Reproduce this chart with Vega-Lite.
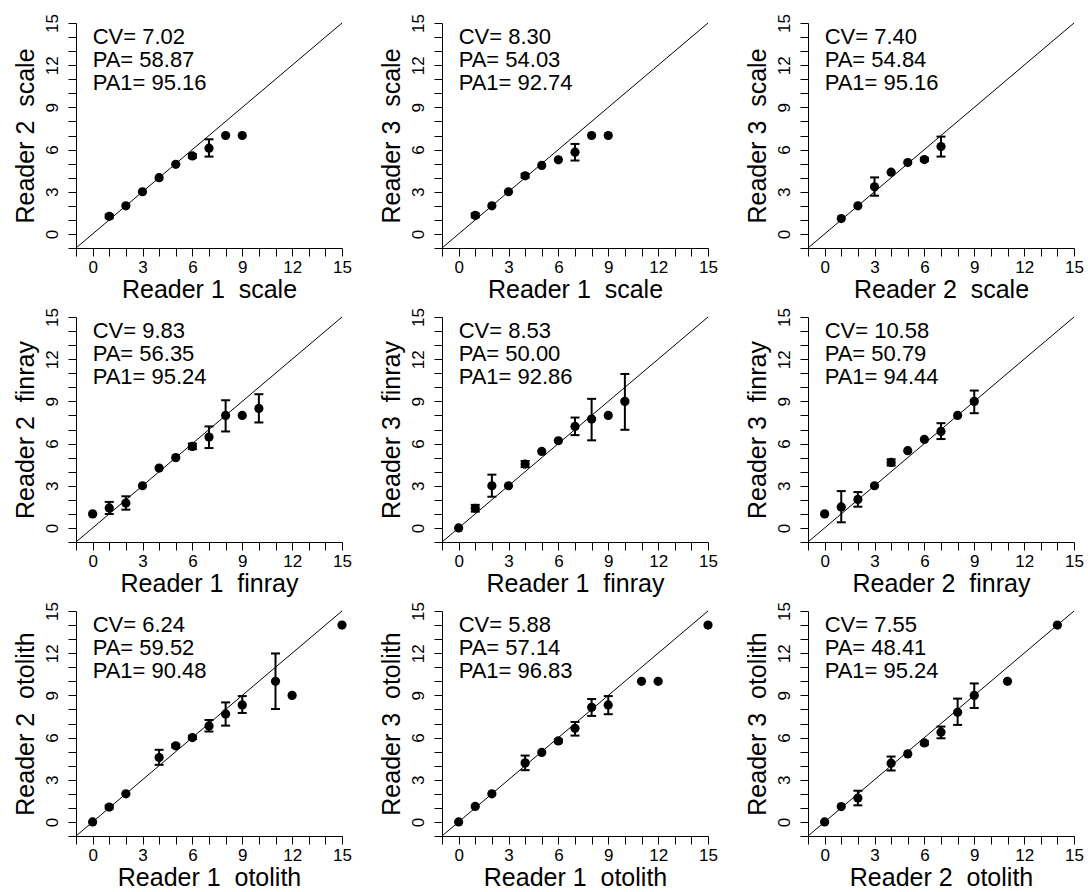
{
  "$schema": "https://vega.github.io/schema/vega-lite/v6.json",
  "padding": {"left": 13, "top": 13, "right": 0, "bottom": 0},
  "background": "white",
  "datasets": {
    "pts": [
      {"p":1,"x":1,"y":1.25,"lo":1.12,"hi":1.38},{"p":1,"x":2,"y":2.0},{"p":1,"x":3,"y":3.0},{"p":1,"x":4,"y":4.0},{"p":1,"x":5,"y":4.95},{"p":1,"x":6,"y":5.55,"lo":5.42,"hi":5.68},{"p":1,"x":7,"y":6.1,"lo":5.5,"hi":6.73},{"p":1,"x":8,"y":7.0},{"p":1,"x":9,"y":7.0},
      {"p":2,"x":1,"y":1.32,"lo":1.18,"hi":1.46},{"p":2,"x":2,"y":2.0},{"p":2,"x":3,"y":3.0},{"p":2,"x":4,"y":4.13,"lo":4.0,"hi":4.27},{"p":2,"x":5,"y":4.87},{"p":2,"x":6,"y":5.27},{"p":2,"x":7,"y":5.81,"lo":5.22,"hi":6.4},{"p":2,"x":8,"y":7.0},{"p":2,"x":9,"y":7.0},
      {"p":3,"x":1,"y":1.09},{"p":3,"x":2,"y":2.0},{"p":3,"x":3,"y":3.35,"lo":2.72,"hi":4.02},{"p":3,"x":4,"y":4.39},{"p":3,"x":5,"y":5.08},{"p":3,"x":6,"y":5.29,"lo":5.18,"hi":5.4},{"p":3,"x":7,"y":6.21,"lo":5.5,"hi":6.92},
      {"p":4,"x":0,"y":1.0},{"p":4,"x":1,"y":1.42,"lo":0.99,"hi":1.85},{"p":4,"x":2,"y":1.77,"lo":1.3,"hi":2.25},{"p":4,"x":3,"y":3.0},{"p":4,"x":4,"y":4.26},{"p":4,"x":5,"y":5.0},{"p":4,"x":6,"y":5.8,"lo":5.6,"hi":6.0},{"p":4,"x":7,"y":6.46,"lo":5.68,"hi":7.22},{"p":4,"x":8,"y":8.0,"lo":6.86,"hi":9.08},{"p":4,"x":9,"y":8.0},{"p":4,"x":10,"y":8.5,"lo":7.5,"hi":9.51},
      {"p":5,"x":0,"y":0.0},{"p":5,"x":1,"y":1.4,"lo":1.16,"hi":1.64},{"p":5,"x":2,"y":3.0,"lo":2.22,"hi":3.79},{"p":5,"x":3,"y":3.0},{"p":5,"x":4,"y":4.54,"lo":4.32,"hi":4.76},{"p":5,"x":5,"y":5.44},{"p":5,"x":6,"y":6.2},{"p":5,"x":7,"y":7.22,"lo":6.6,"hi":7.85},{"p":5,"x":8,"y":7.74,"lo":6.23,"hi":9.18},{"p":5,"x":9,"y":8.0},{"p":5,"x":10,"y":9.0,"lo":6.98,"hi":10.95},
      {"p":6,"x":0,"y":1.0},{"p":6,"x":1,"y":1.49,"lo":0.4,"hi":2.62},{"p":6,"x":2,"y":2.03,"lo":1.51,"hi":2.55},{"p":6,"x":3,"y":3.0},{"p":6,"x":4,"y":4.66,"lo":4.44,"hi":4.88},{"p":6,"x":5,"y":5.49},{"p":6,"x":6,"y":6.29},{"p":6,"x":7,"y":6.86,"lo":6.32,"hi":7.45},{"p":6,"x":8,"y":8.0},{"p":6,"x":9,"y":9.0,"lo":8.16,"hi":9.77},
      {"p":7,"x":0,"y":0.0},{"p":7,"x":1,"y":1.06,"lo":0.95,"hi":1.17},{"p":7,"x":2,"y":2.0},{"p":7,"x":4,"y":4.58,"lo":4.06,"hi":5.13},{"p":7,"x":5,"y":5.41,"lo":5.3,"hi":5.52},{"p":7,"x":6,"y":6.0,"lo":5.9,"hi":6.1},{"p":7,"x":7,"y":6.83,"lo":6.43,"hi":7.25},{"p":7,"x":8,"y":7.68,"lo":6.85,"hi":8.5},{"p":7,"x":9,"y":8.32,"lo":7.75,"hi":8.95},{"p":7,"x":11,"y":10.0,"lo":8.03,"hi":11.98},{"p":7,"x":12,"y":9.0},{"p":7,"x":15,"y":14.0},
      {"p":8,"x":0,"y":0.0},{"p":8,"x":1,"y":1.1},{"p":8,"x":2,"y":2.0},{"p":8,"x":4,"y":4.2,"lo":3.68,"hi":4.72},{"p":8,"x":5,"y":4.94},{"p":8,"x":6,"y":5.76,"lo":5.65,"hi":5.87},{"p":8,"x":7,"y":6.66,"lo":6.14,"hi":7.11},{"p":8,"x":8,"y":8.15,"lo":7.54,"hi":8.74},{"p":8,"x":9,"y":8.32,"lo":7.66,"hi":8.95},{"p":8,"x":11,"y":10.0},{"p":8,"x":12,"y":10.0},{"p":8,"x":15,"y":14.0},
      {"p":9,"x":0,"y":0.0},{"p":9,"x":1,"y":1.09},{"p":9,"x":2,"y":1.7,"lo":1.18,"hi":2.22},{"p":9,"x":4,"y":4.18,"lo":3.66,"hi":4.65},{"p":9,"x":5,"y":4.84},{"p":9,"x":6,"y":5.62,"lo":5.5,"hi":5.74},{"p":9,"x":7,"y":6.38,"lo":5.95,"hi":6.78},{"p":9,"x":8,"y":7.8,"lo":6.9,"hi":8.77},{"p":9,"x":9,"y":9.0,"lo":8.1,"hi":9.85},{"p":9,"x":11,"y":10.0},{"p":9,"x":14,"y":14.0}
    ],
    "ann": [
      {"p":1,"t":"CV= 7.02\nPA= 58.87\nPA1= 95.16"},
      {"p":2,"t":"CV= 8.30\nPA= 54.03\nPA1= 92.74"},
      {"p":3,"t":"CV= 7.40\nPA= 54.84\nPA1= 95.16"},
      {"p":4,"t":"CV= 9.83\nPA= 56.35\nPA1= 95.24"},
      {"p":5,"t":"CV= 8.53\nPA= 50.00\nPA1= 92.86"},
      {"p":6,"t":"CV= 10.58\nPA= 50.79\nPA1= 94.44"},
      {"p":7,"t":"CV= 6.24\nPA= 59.52\nPA1= 90.48"},
      {"p":8,"t":"CV= 5.88\nPA= 57.14\nPA1= 96.83"},
      {"p":9,"t":"CV= 7.55\nPA= 48.41\nPA1= 95.24"}
    ]
  },
  "columns": 3,
  "spacing": {"row": 69, "column": 100},
  "bounds": "flush",
  "concat": [
    {"width":266,"height":225,"layer":[
      {"data":{"values":[{}]},"mark":{"type":"rule","color":"black","strokeWidth":1},"encoding":{"x":{"datum":-1,"type":"quantitative","scale":{"domain":[-1,15],"nice":false,"zero":false},"axis":{"title":"Reader 1\u00a0 scale"}},"x2":{"datum":15},"y":{"datum":-1,"type":"quantitative","scale":{"domain":[-1,15],"nice":false,"zero":false},"axis":{"title":"Reader 2\u00a0 scale"}},"y2":{"datum":15}}},
      {"data":{"name":"ann"},"transform":[{"filter":"datum.p==1"}],"mark":{"type":"text","align":"left","baseline":"top","fontSize":22,"lineBreak":"\n","lineHeight":23,"dy":4,"color":"black"},"encoding":{"x":{"datum":0,"type":"quantitative"},"y":{"datum":15,"type":"quantitative"},"text":{"field":"t"}}},
      {"data":{"name":"pts"},"transform":[{"filter":"datum.p==1"}],"encoding":{"x":{"field":"x","type":"quantitative"}},"layer":[
        {"transform":[{"filter":"isValid(datum.lo)"}],"layer":[
          {"mark":{"type":"rule","color":"black","strokeWidth":2},"encoding":{"y":{"field":"lo","type":"quantitative"},"y2":{"field":"hi"}}},
          {"mark":{"type":"tick","orient":"horizontal","color":"black","size":9,"thickness":2,"opacity":1},"encoding":{"y":{"field":"lo","type":"quantitative"}}},
          {"mark":{"type":"tick","orient":"horizontal","color":"black","size":9,"thickness":2,"opacity":1},"encoding":{"y":{"field":"hi","type":"quantitative"}}}
        ]},
        {"mark":{"type":"circle","size":85,"color":"black","opacity":1},"encoding":{"y":{"field":"y","type":"quantitative"}}}
      ]}
    ]},
    {"width":266,"height":225,"layer":[
      {"data":{"values":[{}]},"mark":{"type":"rule","color":"black","strokeWidth":1},"encoding":{"x":{"datum":-1,"type":"quantitative","scale":{"domain":[-1,15],"nice":false,"zero":false},"axis":{"title":"Reader 1\u00a0 scale"}},"x2":{"datum":15},"y":{"datum":-1,"type":"quantitative","scale":{"domain":[-1,15],"nice":false,"zero":false},"axis":{"title":"Reader 3\u00a0 scale"}},"y2":{"datum":15}}},
      {"data":{"name":"ann"},"transform":[{"filter":"datum.p==2"}],"mark":{"type":"text","align":"left","baseline":"top","fontSize":22,"lineBreak":"\n","lineHeight":23,"dy":4,"color":"black"},"encoding":{"x":{"datum":0,"type":"quantitative"},"y":{"datum":15,"type":"quantitative"},"text":{"field":"t"}}},
      {"data":{"name":"pts"},"transform":[{"filter":"datum.p==2"}],"encoding":{"x":{"field":"x","type":"quantitative"}},"layer":[
        {"transform":[{"filter":"isValid(datum.lo)"}],"layer":[
          {"mark":{"type":"rule","color":"black","strokeWidth":2},"encoding":{"y":{"field":"lo","type":"quantitative"},"y2":{"field":"hi"}}},
          {"mark":{"type":"tick","orient":"horizontal","color":"black","size":9,"thickness":2,"opacity":1},"encoding":{"y":{"field":"lo","type":"quantitative"}}},
          {"mark":{"type":"tick","orient":"horizontal","color":"black","size":9,"thickness":2,"opacity":1},"encoding":{"y":{"field":"hi","type":"quantitative"}}}
        ]},
        {"mark":{"type":"circle","size":85,"color":"black","opacity":1},"encoding":{"y":{"field":"y","type":"quantitative"}}}
      ]}
    ]},
    {"width":266,"height":225,"layer":[
      {"data":{"values":[{}]},"mark":{"type":"rule","color":"black","strokeWidth":1},"encoding":{"x":{"datum":-1,"type":"quantitative","scale":{"domain":[-1,15],"nice":false,"zero":false},"axis":{"title":"Reader 2\u00a0 scale"}},"x2":{"datum":15},"y":{"datum":-1,"type":"quantitative","scale":{"domain":[-1,15],"nice":false,"zero":false},"axis":{"title":"Reader 3\u00a0 scale"}},"y2":{"datum":15}}},
      {"data":{"name":"ann"},"transform":[{"filter":"datum.p==3"}],"mark":{"type":"text","align":"left","baseline":"top","fontSize":22,"lineBreak":"\n","lineHeight":23,"dy":4,"color":"black"},"encoding":{"x":{"datum":0,"type":"quantitative"},"y":{"datum":15,"type":"quantitative"},"text":{"field":"t"}}},
      {"data":{"name":"pts"},"transform":[{"filter":"datum.p==3"}],"encoding":{"x":{"field":"x","type":"quantitative"}},"layer":[
        {"transform":[{"filter":"isValid(datum.lo)"}],"layer":[
          {"mark":{"type":"rule","color":"black","strokeWidth":2},"encoding":{"y":{"field":"lo","type":"quantitative"},"y2":{"field":"hi"}}},
          {"mark":{"type":"tick","orient":"horizontal","color":"black","size":9,"thickness":2,"opacity":1},"encoding":{"y":{"field":"lo","type":"quantitative"}}},
          {"mark":{"type":"tick","orient":"horizontal","color":"black","size":9,"thickness":2,"opacity":1},"encoding":{"y":{"field":"hi","type":"quantitative"}}}
        ]},
        {"mark":{"type":"circle","size":85,"color":"black","opacity":1},"encoding":{"y":{"field":"y","type":"quantitative"}}}
      ]}
    ]},
    {"width":266,"height":225,"layer":[
      {"data":{"values":[{}]},"mark":{"type":"rule","color":"black","strokeWidth":1},"encoding":{"x":{"datum":-1,"type":"quantitative","scale":{"domain":[-1,15],"nice":false,"zero":false},"axis":{"title":"Reader 1\u00a0 finray"}},"x2":{"datum":15},"y":{"datum":-1,"type":"quantitative","scale":{"domain":[-1,15],"nice":false,"zero":false},"axis":{"title":"Reader 2\u00a0 finray"}},"y2":{"datum":15}}},
      {"data":{"name":"ann"},"transform":[{"filter":"datum.p==4"}],"mark":{"type":"text","align":"left","baseline":"top","fontSize":22,"lineBreak":"\n","lineHeight":23,"dy":4,"color":"black"},"encoding":{"x":{"datum":0,"type":"quantitative"},"y":{"datum":15,"type":"quantitative"},"text":{"field":"t"}}},
      {"data":{"name":"pts"},"transform":[{"filter":"datum.p==4"}],"encoding":{"x":{"field":"x","type":"quantitative"}},"layer":[
        {"transform":[{"filter":"isValid(datum.lo)"}],"layer":[
          {"mark":{"type":"rule","color":"black","strokeWidth":2},"encoding":{"y":{"field":"lo","type":"quantitative"},"y2":{"field":"hi"}}},
          {"mark":{"type":"tick","orient":"horizontal","color":"black","size":9,"thickness":2,"opacity":1},"encoding":{"y":{"field":"lo","type":"quantitative"}}},
          {"mark":{"type":"tick","orient":"horizontal","color":"black","size":9,"thickness":2,"opacity":1},"encoding":{"y":{"field":"hi","type":"quantitative"}}}
        ]},
        {"mark":{"type":"circle","size":85,"color":"black","opacity":1},"encoding":{"y":{"field":"y","type":"quantitative"}}}
      ]}
    ]},
    {"width":266,"height":225,"layer":[
      {"data":{"values":[{}]},"mark":{"type":"rule","color":"black","strokeWidth":1},"encoding":{"x":{"datum":-1,"type":"quantitative","scale":{"domain":[-1,15],"nice":false,"zero":false},"axis":{"title":"Reader 1\u00a0 finray"}},"x2":{"datum":15},"y":{"datum":-1,"type":"quantitative","scale":{"domain":[-1,15],"nice":false,"zero":false},"axis":{"title":"Reader 3\u00a0 finray"}},"y2":{"datum":15}}},
      {"data":{"name":"ann"},"transform":[{"filter":"datum.p==5"}],"mark":{"type":"text","align":"left","baseline":"top","fontSize":22,"lineBreak":"\n","lineHeight":23,"dy":4,"color":"black"},"encoding":{"x":{"datum":0,"type":"quantitative"},"y":{"datum":15,"type":"quantitative"},"text":{"field":"t"}}},
      {"data":{"name":"pts"},"transform":[{"filter":"datum.p==5"}],"encoding":{"x":{"field":"x","type":"quantitative"}},"layer":[
        {"transform":[{"filter":"isValid(datum.lo)"}],"layer":[
          {"mark":{"type":"rule","color":"black","strokeWidth":2},"encoding":{"y":{"field":"lo","type":"quantitative"},"y2":{"field":"hi"}}},
          {"mark":{"type":"tick","orient":"horizontal","color":"black","size":9,"thickness":2,"opacity":1},"encoding":{"y":{"field":"lo","type":"quantitative"}}},
          {"mark":{"type":"tick","orient":"horizontal","color":"black","size":9,"thickness":2,"opacity":1},"encoding":{"y":{"field":"hi","type":"quantitative"}}}
        ]},
        {"mark":{"type":"circle","size":85,"color":"black","opacity":1},"encoding":{"y":{"field":"y","type":"quantitative"}}}
      ]}
    ]},
    {"width":266,"height":225,"layer":[
      {"data":{"values":[{}]},"mark":{"type":"rule","color":"black","strokeWidth":1},"encoding":{"x":{"datum":-1,"type":"quantitative","scale":{"domain":[-1,15],"nice":false,"zero":false},"axis":{"title":"Reader 2\u00a0 finray"}},"x2":{"datum":15},"y":{"datum":-1,"type":"quantitative","scale":{"domain":[-1,15],"nice":false,"zero":false},"axis":{"title":"Reader 3\u00a0 finray"}},"y2":{"datum":15}}},
      {"data":{"name":"ann"},"transform":[{"filter":"datum.p==6"}],"mark":{"type":"text","align":"left","baseline":"top","fontSize":22,"lineBreak":"\n","lineHeight":23,"dy":4,"color":"black"},"encoding":{"x":{"datum":0,"type":"quantitative"},"y":{"datum":15,"type":"quantitative"},"text":{"field":"t"}}},
      {"data":{"name":"pts"},"transform":[{"filter":"datum.p==6"}],"encoding":{"x":{"field":"x","type":"quantitative"}},"layer":[
        {"transform":[{"filter":"isValid(datum.lo)"}],"layer":[
          {"mark":{"type":"rule","color":"black","strokeWidth":2},"encoding":{"y":{"field":"lo","type":"quantitative"},"y2":{"field":"hi"}}},
          {"mark":{"type":"tick","orient":"horizontal","color":"black","size":9,"thickness":2,"opacity":1},"encoding":{"y":{"field":"lo","type":"quantitative"}}},
          {"mark":{"type":"tick","orient":"horizontal","color":"black","size":9,"thickness":2,"opacity":1},"encoding":{"y":{"field":"hi","type":"quantitative"}}}
        ]},
        {"mark":{"type":"circle","size":85,"color":"black","opacity":1},"encoding":{"y":{"field":"y","type":"quantitative"}}}
      ]}
    ]},
    {"width":266,"height":225,"layer":[
      {"data":{"values":[{}]},"mark":{"type":"rule","color":"black","strokeWidth":1},"encoding":{"x":{"datum":-1,"type":"quantitative","scale":{"domain":[-1,15],"nice":false,"zero":false},"axis":{"title":"Reader 1\u00a0 otolith"}},"x2":{"datum":15},"y":{"datum":-1,"type":"quantitative","scale":{"domain":[-1,15],"nice":false,"zero":false},"axis":{"title":"Reader 2\u00a0 otolith"}},"y2":{"datum":15}}},
      {"data":{"name":"ann"},"transform":[{"filter":"datum.p==7"}],"mark":{"type":"text","align":"left","baseline":"top","fontSize":22,"lineBreak":"\n","lineHeight":23,"dy":4,"color":"black"},"encoding":{"x":{"datum":0,"type":"quantitative"},"y":{"datum":15,"type":"quantitative"},"text":{"field":"t"}}},
      {"data":{"name":"pts"},"transform":[{"filter":"datum.p==7"}],"encoding":{"x":{"field":"x","type":"quantitative"}},"layer":[
        {"transform":[{"filter":"isValid(datum.lo)"}],"layer":[
          {"mark":{"type":"rule","color":"black","strokeWidth":2},"encoding":{"y":{"field":"lo","type":"quantitative"},"y2":{"field":"hi"}}},
          {"mark":{"type":"tick","orient":"horizontal","color":"black","size":9,"thickness":2,"opacity":1},"encoding":{"y":{"field":"lo","type":"quantitative"}}},
          {"mark":{"type":"tick","orient":"horizontal","color":"black","size":9,"thickness":2,"opacity":1},"encoding":{"y":{"field":"hi","type":"quantitative"}}}
        ]},
        {"mark":{"type":"circle","size":85,"color":"black","opacity":1},"encoding":{"y":{"field":"y","type":"quantitative"}}}
      ]}
    ]},
    {"width":266,"height":225,"layer":[
      {"data":{"values":[{}]},"mark":{"type":"rule","color":"black","strokeWidth":1},"encoding":{"x":{"datum":-1,"type":"quantitative","scale":{"domain":[-1,15],"nice":false,"zero":false},"axis":{"title":"Reader 1\u00a0 otolith"}},"x2":{"datum":15},"y":{"datum":-1,"type":"quantitative","scale":{"domain":[-1,15],"nice":false,"zero":false},"axis":{"title":"Reader 3\u00a0 otolith"}},"y2":{"datum":15}}},
      {"data":{"name":"ann"},"transform":[{"filter":"datum.p==8"}],"mark":{"type":"text","align":"left","baseline":"top","fontSize":22,"lineBreak":"\n","lineHeight":23,"dy":4,"color":"black"},"encoding":{"x":{"datum":0,"type":"quantitative"},"y":{"datum":15,"type":"quantitative"},"text":{"field":"t"}}},
      {"data":{"name":"pts"},"transform":[{"filter":"datum.p==8"}],"encoding":{"x":{"field":"x","type":"quantitative"}},"layer":[
        {"transform":[{"filter":"isValid(datum.lo)"}],"layer":[
          {"mark":{"type":"rule","color":"black","strokeWidth":2},"encoding":{"y":{"field":"lo","type":"quantitative"},"y2":{"field":"hi"}}},
          {"mark":{"type":"tick","orient":"horizontal","color":"black","size":9,"thickness":2,"opacity":1},"encoding":{"y":{"field":"lo","type":"quantitative"}}},
          {"mark":{"type":"tick","orient":"horizontal","color":"black","size":9,"thickness":2,"opacity":1},"encoding":{"y":{"field":"hi","type":"quantitative"}}}
        ]},
        {"mark":{"type":"circle","size":85,"color":"black","opacity":1},"encoding":{"y":{"field":"y","type":"quantitative"}}}
      ]}
    ]},
    {"width":266,"height":225,"layer":[
      {"data":{"values":[{}]},"mark":{"type":"rule","color":"black","strokeWidth":1},"encoding":{"x":{"datum":-1,"type":"quantitative","scale":{"domain":[-1,15],"nice":false,"zero":false},"axis":{"title":"Reader 2\u00a0 otolith"}},"x2":{"datum":15},"y":{"datum":-1,"type":"quantitative","scale":{"domain":[-1,15],"nice":false,"zero":false},"axis":{"title":"Reader 3\u00a0 otolith"}},"y2":{"datum":15}}},
      {"data":{"name":"ann"},"transform":[{"filter":"datum.p==9"}],"mark":{"type":"text","align":"left","baseline":"top","fontSize":22,"lineBreak":"\n","lineHeight":23,"dy":4,"color":"black"},"encoding":{"x":{"datum":0,"type":"quantitative"},"y":{"datum":15,"type":"quantitative"},"text":{"field":"t"}}},
      {"data":{"name":"pts"},"transform":[{"filter":"datum.p==9"}],"encoding":{"x":{"field":"x","type":"quantitative"}},"layer":[
        {"transform":[{"filter":"isValid(datum.lo)"}],"layer":[
          {"mark":{"type":"rule","color":"black","strokeWidth":2},"encoding":{"y":{"field":"lo","type":"quantitative"},"y2":{"field":"hi"}}},
          {"mark":{"type":"tick","orient":"horizontal","color":"black","size":9,"thickness":2,"opacity":1},"encoding":{"y":{"field":"lo","type":"quantitative"}}},
          {"mark":{"type":"tick","orient":"horizontal","color":"black","size":9,"thickness":2,"opacity":1},"encoding":{"y":{"field":"hi","type":"quantitative"}}}
        ]},
        {"mark":{"type":"circle","size":85,"color":"black","opacity":1},"encoding":{"y":{"field":"y","type":"quantitative"}}}
      ]}
    ]}
  ],
  "config": {
    "font": "Liberation Sans",
    "view": {"stroke": null},
    "axis": {
      "grid": false,
      "domainColor": "black",
      "tickColor": "black",
      "labelColor": "black",
      "titleColor": "black",
      "labelFont": "Liberation Sans",
      "titleFont": "Liberation Sans",
      "labelFontSize": 17,
      "titleFontSize": 25,
      "titleFontWeight": "normal",
      "tickSize": 8,
      "tickCount": 16,
      "domainWidth": 1,
      "tickWidth": 1,
      "labelFlush": false,
      "labelOverlap": false,
      "labelExpr": "datum.value >= 0 && datum.value % 3 == 0 ? datum.label : ''"
    },
    "axisX": {"labelPadding": 3, "titlePadding": 2},
    "axisY": {"labelAngle": -90, "labelAlign": "center", "labelBaseline": "alphabetic", "labelPadding": 11, "titlePadding": 5}
  }
}
